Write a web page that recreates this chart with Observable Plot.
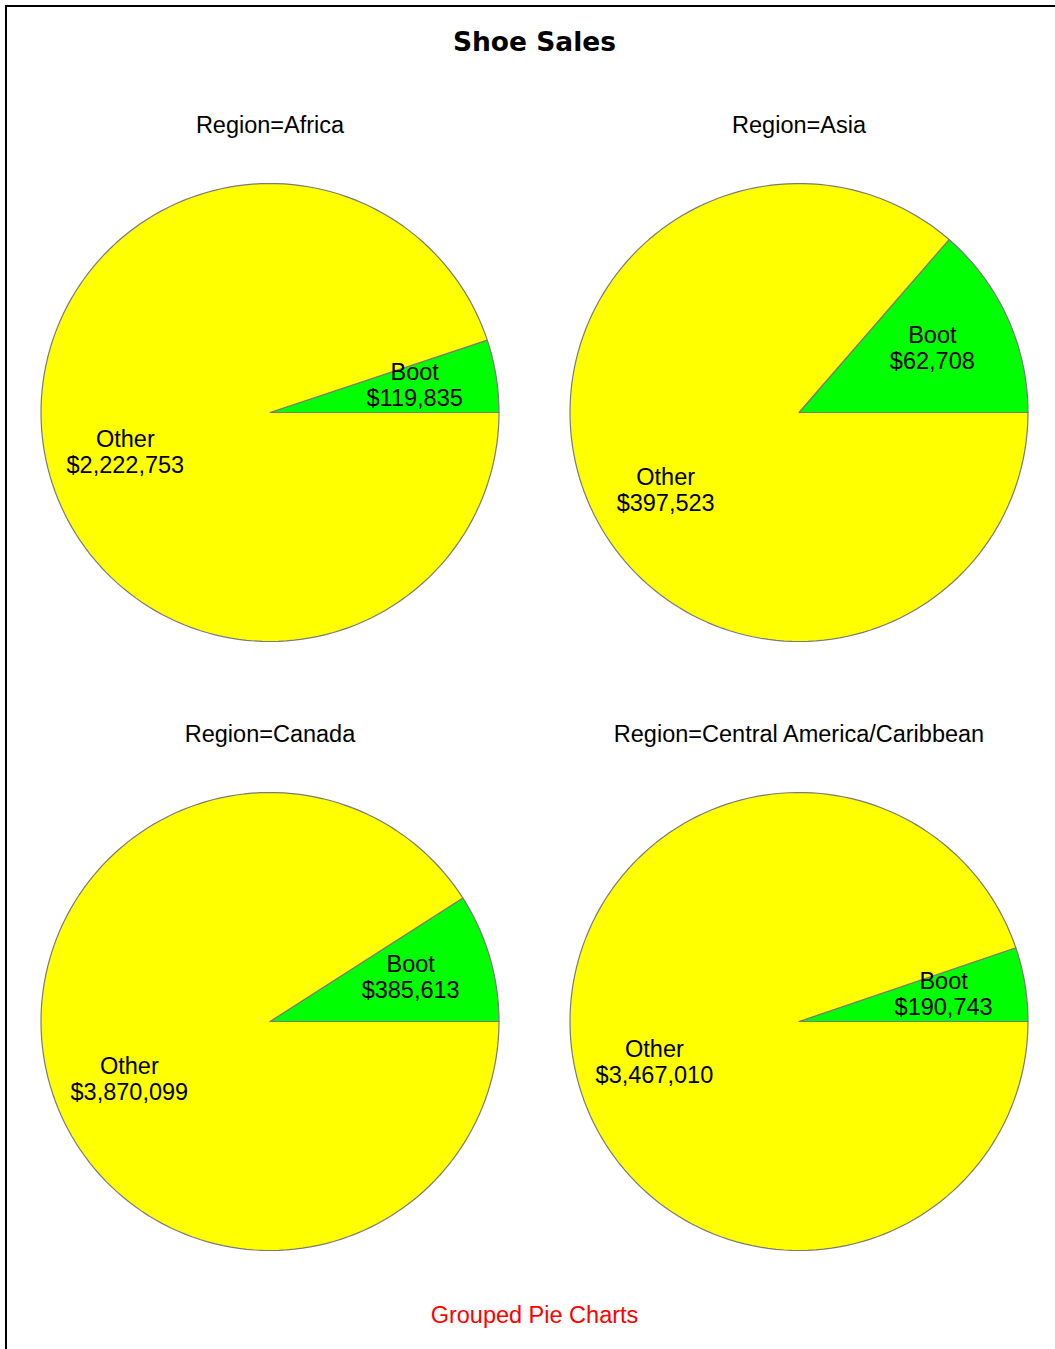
<!DOCTYPE html>
<html>
<head>
<meta charset="utf-8">
<script src="https://cdn.jsdelivr.net/npm/d3@7"></script>
<script src="https://cdn.jsdelivr.net/npm/@observablehq/plot@0.6"></script>
<style>
  html, body { margin: 0; padding: 0; background: #fff; overflow: hidden; width: 1055px; height: 1349px; }
  #frame { position: absolute; left: 5px; top: 5px; width: 3000px; height: 3000px; border-top: 2px solid #000; border-left: 2px solid #000; box-sizing: border-box; }
  #title { position: absolute; left: 7px; width: 1055px; top: 29px; text-align: center; font: bold 26.5px/26.5px "DejaVu Sans", sans-serif; color: #000; }
  #chart { position: absolute; left: 5px; top: 80px; width: 1058px; }
  #chart svg { max-width: none !important; }
  #caption { position: absolute; left: 7px; width: 1055px; top: 1304px; text-align: center; font: 23.5px/23.5px "Liberation Sans", Arial, sans-serif; color: #ff0000; }
</style>
</head>
<body>
<div id="frame"></div>
<div id="title">Shoe Sales</div>
<div id="chart"></div>
<div id="caption">Grouped Pie Charts</div>
<script>
// ---- data ----
const regions = ["Africa", "Asia", "Canada", "Central America/Caribbean"];
const products = ["Boot", "Other"];
const bootSales = [119835, 62708, 385613, 190743];
const otherSales = [2222753, 397523, 3870099, 3467010];
const sliceColors = ["#00ff00", "#ffff00"];

// ---- layout parameters ----
const W = 1058, marginTop = 27, bandH = 560, step = 609;
const R = 229;               // pie radius in px
const centerFromTop = 305;   // pie centre offset within facet band (px)
const labelR = 0.64;         // label radius (fraction of pie radius)

const fmt = d3.format("$,");

// slice outlines: geometry sampled along each arc, angles from the data
const slicePts = [];
const labels = [];
regions.forEach((region, i) => {
  const vals = [bootSales[i], otherSales[i]];
  const total = d3.sum(vals);
  let a0 = 0;
  vals.forEach((v, j) => {
    const a1 = a0 + 2 * Math.PI * v / total;
    const key = region + "|" + products[j];
    const base = {region, product: products[j], key, col: i % 2, row: Math.floor(i / 2)};
    slicePts.push({...base, x: 0, y: 0});
    const n = Math.max(2, Math.ceil((a1 - a0) / (Math.PI / 90)));
    for (let k = 0; k <= n; k++) {
      const a = a0 + (a1 - a0) * k / n;
      slicePts.push({...base, x: Math.cos(a), y: Math.sin(a)});
    }
    slicePts.push({...base, x: 0, y: 0});
    const am = (a0 + a1) / 2;
    labels.push({...base, x: labelR * Math.cos(am), y: labelR * Math.sin(am), text: products[j] + "\n" + fmt(v)});
    a0 = a1;
  });
});
const regionRows = regions.map((region, i) => ({region, col: i % 2, row: Math.floor(i / 2), text: "Region=" + region}));

const bandW = W / 2;
const xHalf = bandW / 2 / R;
const yTop = centerFromTop / R;
const yBot = (bandH - centerFromTop) / R;

const chart = Plot.plot({
  width: W,
  height: marginTop + step + bandH,
  marginTop, marginBottom: 0, marginLeft: 0, marginRight: 0,
  style: {fontFamily: "'Liberation Sans', Arial, sans-serif", fontSize: "23.5px", background: "transparent", overflow: "visible", maxWidth: "none"},
  fx: {domain: [0, 1], padding: 0, axis: null},
  fy: {domain: [0, 1], paddingInner: (step - bandH) / step, paddingOuter: 0, axis: null},
  x: {domain: [-xHalf, xHalf], axis: null},
  y: {domain: [-yBot, yTop], axis: null},
  color: {domain: products, range: sliceColors},
  marks: [
    Plot.line(slicePts, {x: "x", y: "y", z: "key", fx: "col", fy: "row", fill: "product", stroke: "#7a7a7a", strokeWidth: 1.2, curve: "linear"}),
    Plot.text(labels.filter(d => d.product === "Boot"), {x: "x", y: "y", fx: "col", fy: "row", text: "text", fontSize: 23.5, lineHeight: 1.106, dy: -4, fill: "#000"}),
    Plot.text(labels.filter(d => d.product === "Other"), {x: "x", y: "y", fx: "col", fy: "row", text: "text", fontSize: 23.5, lineHeight: 1.106, dy: 16, fill: "#000"}),
    Plot.text(regionRows, {fx: "col", fy: "row", text: "text", frameAnchor: "top", lineAnchor: "middle", dy: 17.5, fontSize: 23.5, fill: "#000"})
  ]
});
document.getElementById("chart").appendChild(chart);
</script>
</body>
</html>
